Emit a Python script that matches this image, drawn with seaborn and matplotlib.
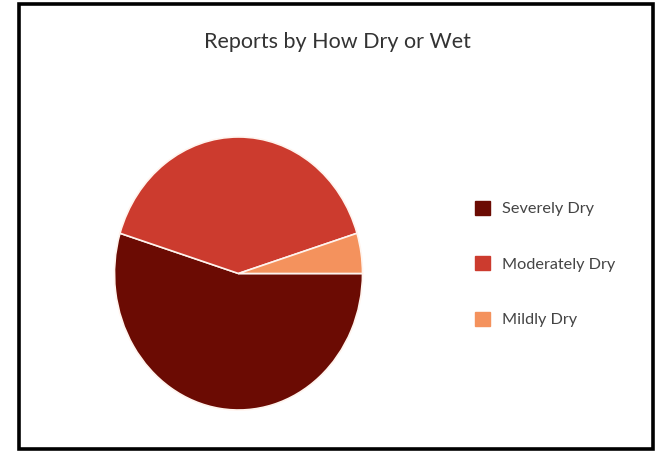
import matplotlib
matplotlib.use("Agg")
import matplotlib.pyplot as plt
import seaborn as sns
from matplotlib.patches import Patch, Rectangle

categories = ["Severely Dry", "Moderately Dry", "Mildly Dry"]
counts = [23, 17, 2]
colors = ["#6b0b03", "#cc3b2e", "#f4925d"]
title = "Reports by How Dry or Wet"

sns.set_theme(style="white")
plt.rcParams["font.family"] = ["Lato", "DejaVu Sans"]

W, H = 660, 454
fig = plt.figure(figsize=(W / 100, H / 100), dpi=100)
fig.patch.set_facecolor("white")

# pie axes (slightly taller than wide, as in reference)
ax = fig.add_axes([114.5 / W, 1 - 410 / H, 248 / W, 273 / H])
palette = sns.color_palette(colors)
wedges, _ = ax.pie(counts, colors=palette, startangle=0, counterclock=False,
                   radius=1, wedgeprops=dict(edgecolor="#fff4ee", linewidth=1.2))
ax.set_aspect("auto")
ax.set_xlim(-1, 1)
ax.set_ylim(-1, 1)
ax.axis("off")

fig.text(337 / W, 1 - 42 / H, title, ha="center", va="center",
         fontsize=15.5, color="#333333")

handles = [Patch(facecolor=c, edgecolor=c, label=l) for c, l in zip(palette, categories)]
fig.legend(handles=handles, loc="center left",
           bbox_to_anchor=(475 / W, 1 - 264 / H), frameon=False,
           fontsize=11.7, handlelength=0.95, handleheight=0.95,
           handletextpad=0.7, labelspacing=2.45, borderpad=0,
           borderaxespad=0, labelcolor="#444444")

fig.add_artist(Rectangle((18.5 / W, 5.5 / H), (652.5 - 18.5) / W, (450.5 - 5.5) / H,
                         transform=fig.transFigure, fill=False,
                         edgecolor="black", linewidth=2.6))

fig.savefig("out.png", dpi=100)
